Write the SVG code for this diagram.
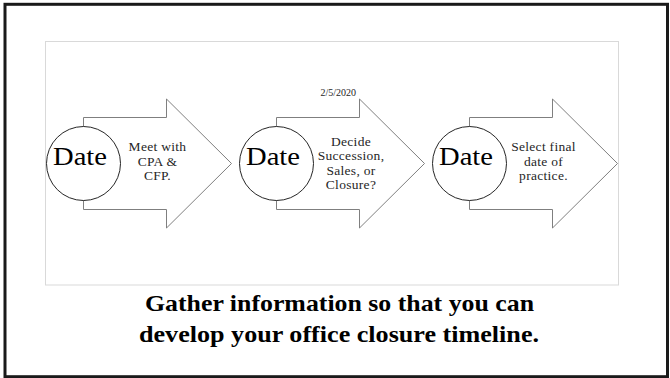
<svg xmlns="http://www.w3.org/2000/svg" width="670" height="378" viewBox="0 0 670 378">
  <style>
    .frame { fill: none; stroke: #1a1a1a; stroke-width: 3; }
    .panel { fill: #ffffff; stroke: #d9d9d9; stroke-width: 1; }
    .arrow { fill: #ffffff; stroke: #7f7f7f; stroke-width: 1; stroke-linejoin: miter; }
    .disc { fill: #ffffff; stroke: #262626; stroke-width: 1; }
    .date { font-family: "Liberation Serif", "Times New Roman", serif; font-size: 25px; fill: #000000; text-anchor: middle; }
    .label { font-family: "Liberation Serif", "Times New Roman", serif; font-size: 13.5px; letter-spacing: 0.3px; fill: #262626; text-anchor: middle; }
    .stamp { font-family: "Liberation Serif", "Times New Roman", serif; font-size: 10px; fill: #262626; text-anchor: end; }
    .caption { font-family: "Liberation Serif", "Times New Roman", serif; font-size: 24px; font-weight: bold; fill: #000000; text-anchor: middle; }
  </style>
  <defs>
    <!-- chevron block arrow, origin at the circle centre -->
    <path id="chevron" d="M0,117.5 H83 V99 L148,163.5 L83,228 V209.5 H0 Z"/>
  </defs>

  <rect width="670" height="378" fill="#ffffff"/>
  <rect class="frame" x="5" y="4.3" width="662.5" height="372.4"/>
  <rect class="panel" x="45.5" y="41.5" width="573" height="243.5"/>

  <g id="step-1">
    <use href="#chevron" class="arrow" x="83.5"/>
    <circle class="disc" cx="83.5" cy="163.5" r="37"/>
    <text class="date" x="80" y="165" textLength="54" lengthAdjust="spacingAndGlyphs">Date</text>
    <text class="label" x="157.5" y="151">Meet with</text>
    <text class="label" x="157.5" y="165.5">CPA &amp;</text>
    <text class="label" x="157.5" y="180">CFP.</text>
  </g>

  <g id="step-2">
    <use href="#chevron" class="arrow" x="276.5"/>
    <circle class="disc" cx="276.5" cy="163.5" r="37"/>
    <text class="date" x="273" y="165" textLength="54" lengthAdjust="spacingAndGlyphs">Date</text>
    <text class="stamp" x="356" y="96">2/5/2020</text>
    <text class="label" x="351" y="145.5">Decide</text>
    <text class="label" x="351" y="160">Succession,</text>
    <text class="label" x="351" y="174.5">Sales, or</text>
    <text class="label" x="351" y="189">Closure?</text>
  </g>

  <g id="step-3">
    <use href="#chevron" class="arrow" x="469.5"/>
    <circle class="disc" cx="469.5" cy="163.5" r="37"/>
    <text class="date" x="466" y="165" textLength="54" lengthAdjust="spacingAndGlyphs">Date</text>
    <text class="label" x="543.5" y="151">Select final</text>
    <text class="label" x="543.5" y="165.5">date of</text>
    <text class="label" x="543.5" y="180">practice.</text>
  </g>

  <g id="caption">
    <text class="caption" x="339.5" y="311" textLength="389" lengthAdjust="spacingAndGlyphs">Gather information so that you can</text>
    <text class="caption" x="339" y="342" textLength="400" lengthAdjust="spacingAndGlyphs">develop your office closure timeline.</text>
  </g>
</svg>
